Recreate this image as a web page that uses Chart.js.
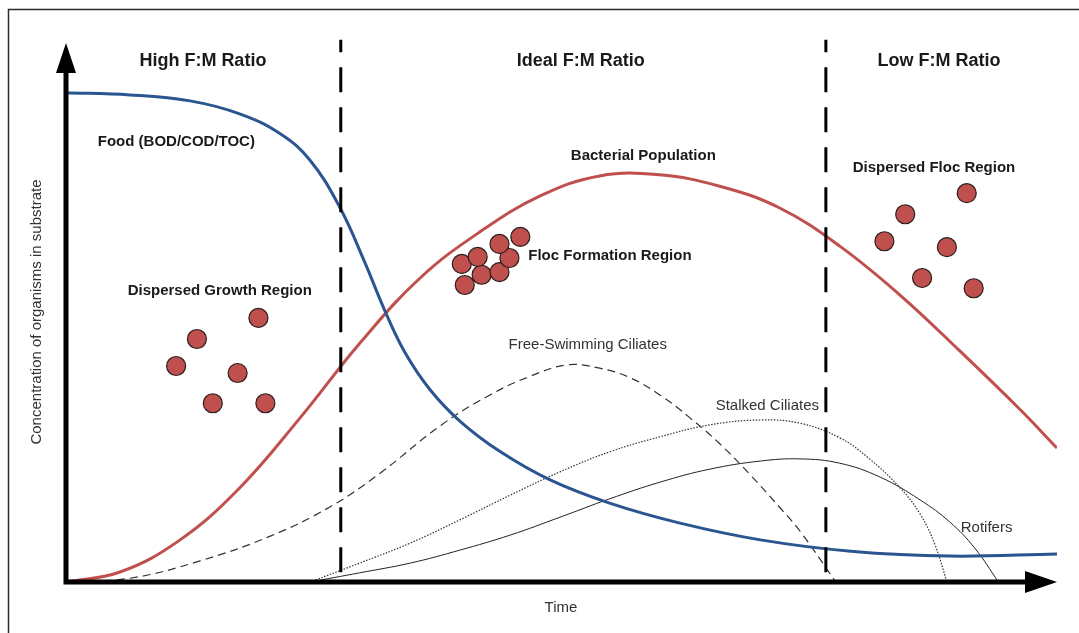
<!DOCTYPE html>
<html>
<head>
<meta charset="utf-8">
<script src="https://cdn.jsdelivr.net/npm/chart.js@4.4.1/dist/chart.umd.min.js"></script>
<style>
  body { margin: 0; background: #fff; }
  #wrap { width: 1079px; height: 633px; position: relative; }
</style>
</head>
<body>
<div id="wrap"><canvas id="fmChart"></canvas></div>
<script>
// both axes are relative units 0-100 (time -> right, concentration -> up)

// food (BOD/COD/TOC)
let foodT = [0, 6.55, 12.6, 17.6, 21.7, 24.7, 27.7, 30.2, 32.3, 34.3, 36.8, 39.8, 43.9, 48.9, 54.9, 62.0, 70.1, 79.2, 89.2, 100];
let foodC = [90.6, 90.2, 89.1, 86.7, 83.0, 78.1, 69.4, 59.3, 50.0, 42.4, 35.6, 29.8, 24.1, 18.9, 14.6, 10.9, 7.8, 5.7, 4.8, 5.2];

// bacterial population
let bactT = [0, 5.54, 11.6, 17.6, 23.7, 29.8, 35.8, 41.8, 47.9, 53.9, 59.9, 66.0, 72.0, 78.1, 84.2, 90.2, 96.3, 100];
let bactC = [0, 1.85, 7.8, 17.4, 30.4, 44.4, 56.3, 64.8, 71.5, 75.2, 75.4, 73.3, 69.3, 62.2, 53.1, 42.8, 31.9, 24.8];

// free-swimming ciliates
let freeT = [0, 6.55, 13.6, 20.7, 26.7, 31.8, 37.8, 42.8, 46.9, 50.6, 53.9, 57.0, 60.0, 63.0, 66.0, 69.1, 72.1, 74.1, 77.7];
let freeC = [0, 0.7, 3.9, 8.5, 13.9, 20.2, 28.9, 34.6, 38.1, 40.2, 39.6, 37.8, 34.6, 30.4, 25.6, 19.8, 13.7, 9.4, 0];

// stalked ciliates
let stalkT = [24.7, 29.7, 34.8, 39.8, 44.9, 49.9, 54.9, 60.0, 65.0, 70.1, 74.1, 78.1, 81.1, 84.2, 86.2, 87.7, 88.9];
let stalkC = [0, 3.5, 7.2, 11.5, 16.1, 20.4, 24.1, 26.9, 29.1, 30.0, 29.4, 26.7, 22.8, 17.4, 12.6, 6.9, 0];

// rotifers
let rotT = [24.7, 29.7, 34.8, 39.8, 44.9, 49.9, 54.9, 60.0, 65.0, 70.1, 74.1, 78.1, 82.2, 86.2, 89.2, 91.7, 94.1];
let rotC = [0, 1.7, 3.5, 5.9, 8.7, 12.0, 15.4, 18.5, 20.9, 22.4, 22.8, 22.0, 19.4, 15.2, 11.1, 6.3, 0];

// bacteria clumps
let growthT = [19.5, 13.3, 11.2, 17.4, 14.9, 20.2];
let growthC = [48.9, 45.0, 40.0, 38.7, 33.1, 33.1];
let flocT = [40.3, 42.0, 43.8, 40.0, 41.6, 44.8, 43.8, 45.9];
let flocC = [55.0, 56.9, 57.4, 58.9, 60.2, 60.0, 62.6, 63.9];
let dispT = [90.9, 84.7, 82.6, 88.9, 86.4, 91.6];
let dispC = [72.0, 68.1, 63.1, 62.0, 56.3, 54.4];

// F:M region borders and headings
let dividerT = [27.8, 76.7];
let regionNames = ["High F:M Ratio", "Ideal F:M Ratio", "Low F:M Ratio"];
let regionT = [13.9, 52.0, 88.1];

let pts = (t, c) => t.map((x, i) => ({ x: x, y: c[i] }));

// text placed in data space
let notes = [
  { text: "Food (BOD/COD/TOC)", x: 3.3, y: 81.5, bold: true, align: "left" },
  { text: "Bacterial Population", x: 58.3, y: 78.9, bold: true },
  { text: "Dispersed Floc Region", x: 87.6, y: 76.7, bold: true },
  { text: "Floc Formation Region", x: 46.7, y: 60.4, bold: true, align: "left" },
  { text: "Dispersed Growth Region", x: 15.6, y: 53.9, bold: true },
  { text: "Free-Swimming Ciliates", x: 52.7, y: 43.9 },
  { text: "Stalked Ciliates", x: 70.8, y: 32.6 },
  { text: "Rotifers", x: 92.9, y: 10.0 },
];

let red = "#c0504d";
let blue = "#2b5590";
let font = '"Liberation Sans", Arial, sans-serif';

let datasets = [];
dividerT.forEach((t) => {
  datasets.push({
    data: [{ x: t, y: 1.8 }, { x: t, y: 100.4 }],
    borderColor: "#000",
    borderWidth: 3,
    borderDash: [25, 15],
    pointRadius: 0,
    clip: false,
  });
});
datasets.push({ data: pts(foodT, foodC), borderColor: blue, borderWidth: 3, pointRadius: 0, tension: 0.4 });
datasets.push({ data: pts(bactT, bactC), borderColor: red, borderWidth: 3, pointRadius: 0, tension: 0.4 });
datasets.push({ data: pts(freeT, freeC), borderColor: "#333", borderWidth: 1.2, borderDash: [8, 5], pointRadius: 0, tension: 0.4 });
datasets.push({ data: pts(stalkT, stalkC), borderColor: "#333", borderWidth: 1.2, borderDash: [1.5, 1.5], pointRadius: 0, tension: 0.4 });
datasets.push({ data: pts(rotT, rotC), borderColor: "#222", borderWidth: 1, pointRadius: 0, tension: 0.4 });
[[growthT, growthC], [flocT, flocC], [dispT, dispC]].forEach((g) => {
  datasets.push({
    data: pts(g[0], g[1]),
    showLine: false,
    pointRadius: 9.5,
    pointBackgroundColor: red,
    pointBorderColor: "#2a1f1f",
    pointBorderWidth: 1.2,
  });
});

let decor = {
  id: "decor",
  beforeDraw(chart) {
    let ctx = chart.ctx;
    ctx.save();
    ctx.strokeStyle = "#2b2b2b";
    ctx.lineWidth = 1.5;
    ctx.strokeRect(8.5, 9.5, 1200, 1200);
    ctx.restore();
  },
  afterDatasetsDraw(chart) {
    let ctx = chart.ctx;
    let x = chart.scales.x;
    let y = chart.scales.y;
    let x0 = x.getPixelForValue(0) + 1, y0 = y.getPixelForValue(0);
    let xEnd = x.getPixelForValue(100), yEnd = y.getPixelForValue(100) + 1;
    ctx.save();
    ctx.fillStyle = "#000";
    ctx.strokeStyle = "#000";
    ctx.lineWidth = 5;
    ctx.lineCap = "square";
    ctx.beginPath();
    ctx.moveTo(x0, y0);
    ctx.lineTo(xEnd - 30, y0);
    ctx.moveTo(x0, y0);
    ctx.lineTo(x0, yEnd + 28);
    ctx.stroke();
    // arrow heads
    ctx.beginPath();
    ctx.moveTo(xEnd, y0);
    ctx.lineTo(xEnd - 32, y0 - 11);
    ctx.lineTo(xEnd - 32, y0 + 11);
    ctx.closePath();
    ctx.fill();
    ctx.beginPath();
    ctx.moveTo(x0, yEnd);
    ctx.lineTo(x0 - 10, yEnd + 30);
    ctx.lineTo(x0 + 10, yEnd + 30);
    ctx.closePath();
    ctx.fill();
    ctx.restore();
  },
  afterDraw(chart) {
    let ctx = chart.ctx;
    let x = chart.scales.x;
    let y = chart.scales.y;
    ctx.save();
    ctx.textBaseline = "middle";
    // region headings
    ctx.fillStyle = "#1a1a1a";
    ctx.textAlign = "center";
    ctx.font = "bold 18px " + font;
    regionNames.forEach((name, i) => {
      ctx.fillText(name, x.getPixelForValue(regionT[i]), y.getPixelForValue(96.5));
    });
    // curve and region notes
    notes.forEach((n) => {
      ctx.font = (n.bold ? "bold " : "") + "15px " + font;
      ctx.fillStyle = n.bold ? "#1a1a1a" : "#333";
      ctx.textAlign = n.align || "center";
      ctx.fillText(n.text, x.getPixelForValue(n.x), y.getPixelForValue(n.y));
    });
    // axis titles
    ctx.font = "15px " + font;
    ctx.fillStyle = "#333";
    ctx.textAlign = "center";
    ctx.fillText("Time", x.getPixelForValue(50), chart.chartArea.bottom + 26);
    ctx.translate(37, (chart.chartArea.top + chart.chartArea.bottom) / 2);
    ctx.rotate(-Math.PI / 2);
    ctx.fillText("Concentration of organisms in substrate", 0, 0);
    ctx.restore();
  },
};

new Chart(document.getElementById("fmChart"), {
  type: "line",
  data: { datasets: datasets },
  options: {
    responsive: true,
    maintainAspectRatio: false,
    animation: false,
    layout: { padding: { left: 65, right: 22, top: 42, bottom: 51 } },
    plugins: { legend: { display: false }, tooltip: { enabled: false } },
    scales: {
      x: { type: "linear", min: 0, max: 100, display: false },
      y: { type: "linear", min: 0, max: 100, display: false },
    },
  },
  plugins: [decor],
});
</script>
</body>
</html>
